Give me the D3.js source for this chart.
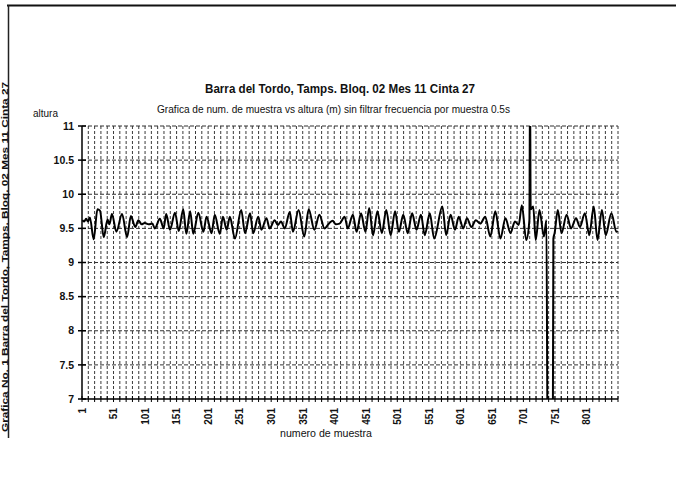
<!DOCTYPE html>
<html>
<head>
<meta charset="utf-8">
<script src="https://cdn.jsdelivr.net/npm/d3@7"></script>
<style>
  body { margin: 0; background: #fff; }
  text { font-family: "Liberation Sans", Arial, sans-serif; fill: #111; }
</style>
</head>
<body>
<div id="chart-area"></div>
<script>
// numero de muestra (sample number) and altura (m)
const muestra = [
	1, 4, 7, 10, 13, 19, 25, 29, 35, 41,
	44, 48, 55, 64, 72, 78, 85, 90, 95, 100,
	106, 112, 116, 124, 130, 134, 140, 148, 154, 161,
	166, 172, 177, 185, 193, 198, 206, 211, 219, 224,
	230, 235, 243, 253, 259, 267, 272, 280, 285, 293,
	298, 306, 311, 316, 322, 330, 335, 344, 353, 360,
	369, 377, 385, 393, 398, 403, 409, 417, 422, 430,
	436, 443, 450, 456, 462, 469, 476, 483, 490, 497,
	503, 510, 517, 524, 531, 538, 544, 552, 559, 572,
	578, 585, 592, 598, 605, 611, 618, 625, 632, 640,
	648, 656, 664, 672, 680, 687, 693, 698, 705, 710,
	711, 712, 716, 720, 726, 733, 737, 739, 747,
	748, 750, 755, 761, 769, 776, 784, 790, 798, 805,
	812, 818, 825, 831, 840, 848, 850
]
const altura = [
	9.62, 9.60, 9.64, 9.60, 9.66, 9.34, 9.78, 9.76, 9.37, 9.63,
	9.56, 9.71, 9.45, 9.71, 9.37, 9.68, 9.52, 9.62, 9.56, 9.58,
	9.56, 9.57, 9.50, 9.64, 9.50, 9.71, 9.48, 9.73, 9.46, 9.78,
	9.42, 9.75, 9.42, 9.73, 9.45, 9.67, 9.43, 9.70, 9.42, 9.67,
	9.48, 9.67, 9.35, 9.77, 9.43, 9.72, 9.43, 9.67, 9.48, 9.65,
	9.50, 9.62, 9.55, 9.60, 9.50, 9.74, 9.45, 9.77, 9.38, 9.78,
	9.48, 9.70, 9.50, 9.58, 9.61, 9.56, 9.57, 9.67, 9.50, 9.70,
	9.45, 9.72, 9.45, 9.80, 9.40, 9.75, 9.43, 9.77, 9.40, 9.75,
	9.45, 9.70, 9.43, 9.72, 9.48, 9.70, 9.40, 9.72, 9.35, 9.82,
	9.40, 9.70, 9.48, 9.67, 9.50, 9.65, 9.52, 9.62, 9.57, 9.67,
	9.38, 9.75, 9.35, 9.65, 9.43, 9.60, 9.55, 9.84, 9.33, 9.62,
	11.6, 9.78, 9.82, 9.33, 9.77, 9.38, 9.62, 6.0, 6.0,
	9.35, 9.43, 9.77, 9.43, 9.70, 9.50, 9.65, 9.52, 9.72, 9.40,
	9.82, 9.33, 9.77, 9.40, 9.72, 9.45, 9.46
]
const yTicks = [7, 7.5, 8, 8.5, 9, 9.5, 10, 10.5, 11]
const xTickLabels = [1, 51, 101, 151, 201, 251, 301, 351, 401, 451, 501, 551, 601, 651, 701, 751, 801]
const nMuestras = 850

const titulo = "Barra del Tordo, Tamps. Bloq. 02 Mes 11 Cinta 27"
const subtitulo = "Grafica de num. de muestra vs altura (m) sin filtrar  frecuencia por muestra 0.5s"
const margenTexto = "Grafica No. 1 Barra del Tordo, Tamps. Bloq. 02 Mes 11 Cinta 27"

const W = 676, H = 504
const plot = { left: 82, right: 618, top: 126, bottom: 399 }

const svg = d3.select("#chart-area").append("svg")
	.attr("width", W)
	.attr("height", H)

const x = d3.scaleLinear().domain([0.5, nMuestras + 0.5]).range([plot.left, plot.right])
const y = d3.scaleLinear().domain([7, 11]).range([plot.bottom, plot.top])

// page frame of the scanned sheet, with the sideways margin note
svg.append("line").attr("x1", 7).attr("x2", W).attr("y1", 5.5).attr("y2", 5.5)
	.attr("stroke", "#111").attr("stroke-width", 2)
svg.append("line").attr("x1", 8.5).attr("x2", 8.5).attr("y1", 5).attr("y2", 438)
	.attr("stroke", "#222").attr("stroke-width", 1.5)
svg.append("text")
	.attr("transform", "translate(7.5,432) rotate(-90)")
	.attr("font-size", 8.5).attr("font-weight", "bold")
	.attr("textLength", 350).attr("lengthAdjust", "spacingAndGlyphs")
	.text(margenTexto)

// gridlines every 10 samples (category boundaries)
const gridCats = d3.range(10.5, nMuestras + 1, 10)
svg.append("g").selectAll("line")
	.data(gridCats)
	.enter().append("line")
	.attr("x1", d => x(d)).attr("x2", d => x(d))
	.attr("y1", plot.top).attr("y2", plot.bottom)
	.attr("stroke", "#3a3a3a").attr("stroke-width", 1)
	.attr("stroke-dasharray", "3,2")

svg.append("g").selectAll("line")
	.data(yTicks.filter(d => d > 7))
	.enter().append("line")
	.attr("x1", plot.left).attr("x2", plot.right)
	.attr("y1", d => y(d)).attr("y2", d => y(d))
	.attr("stroke", "#333").attr("stroke-width", 1)
	.attr("stroke-dasharray", "4,2")

// axes
svg.append("line").attr("x1", plot.left).attr("x2", plot.right)
	.attr("y1", plot.bottom).attr("y2", plot.bottom)
	.attr("stroke", "#000").attr("stroke-width", 1.5)
svg.append("line").attr("x1", plot.left).attr("x2", plot.left)
	.attr("y1", plot.top).attr("y2", plot.bottom)
	.attr("stroke", "#000").attr("stroke-width", 1.5)

// cross tick marks on the x axis
svg.append("g").selectAll("line")
	.data(d3.range(0.5, nMuestras + 1, 10))
	.enter().append("line")
	.attr("x1", d => x(d)).attr("x2", d => x(d))
	.attr("y1", plot.bottom - 3).attr("y2", plot.bottom + 3)
	.attr("stroke", "#000")

// cross tick marks on the y axis
svg.append("g").selectAll("line")
	.data(yTicks)
	.enter().append("line")
	.attr("x1", plot.left - 4).attr("x2", plot.left + 4)
	.attr("y1", d => y(d)).attr("y2", d => y(d))
	.attr("stroke", "#000").attr("stroke-width", 1.5)

svg.append("g").selectAll("text")
	.data(yTicks)
	.enter().append("text")
	.attr("x", plot.left - 8)
	.attr("y", d => y(d))
	.attr("dy", "0.35em")
	.attr("text-anchor", "end")
	.attr("font-size", 10.5).attr("font-weight", "bold")
	.text(d => d)

svg.append("g").selectAll("text")
	.data(xTickLabels)
	.enter().append("text")
	.attr("transform", d => "translate(" + x(d) + "," + (plot.bottom + 9) + ") rotate(-90)")
	.attr("dy", "0.35em")
	.attr("text-anchor", "end")
	.attr("font-size", 10).attr("font-weight", "bold")
	.text(d => d)

// titles
svg.append("text")
	.attr("x", 205).attr("y", 93)
	.attr("font-size", 12.5).attr("font-weight", "bold")
	.attr("textLength", 270).attr("lengthAdjust", "spacingAndGlyphs")
	.text(titulo)
svg.append("text")
	.attr("x", 157).attr("y", 113)
	.attr("font-size", 10)
	.attr("textLength", 353).attr("lengthAdjust", "spacingAndGlyphs")
	.text(subtitulo)
svg.append("text")
	.attr("x", 33).attr("y", 117)
	.attr("font-size", 10)
	.text("altura")
svg.append("text")
	.attr("x", 280).attr("y", 437)
	.attr("font-size", 10)
	.attr("textLength", 92).attr("lengthAdjust", "spacingAndGlyphs")
	.text("numero de muestra")

// the series, clipped to the plot area like the original
svg.append("clipPath").attr("id", "clip")
	.append("rect")
	.attr("x", plot.left).attr("y", plot.top)
	.attr("width", plot.right - plot.left).attr("height", plot.bottom - plot.top)

const line = d3.line()
	.x((d, i) => x(muestra[i]))
	.y(d => y(d))
	.curve(d3.curveMonotoneX)

svg.append("path")
	.datum(altura)
	.attr("clip-path", "url(#clip)")
	.attr("fill", "none")
	.attr("stroke", "#000")
	.attr("stroke-width", 2)
	.attr("stroke-linejoin", "round")
	.attr("d", line)
</script>
</body>
</html>
